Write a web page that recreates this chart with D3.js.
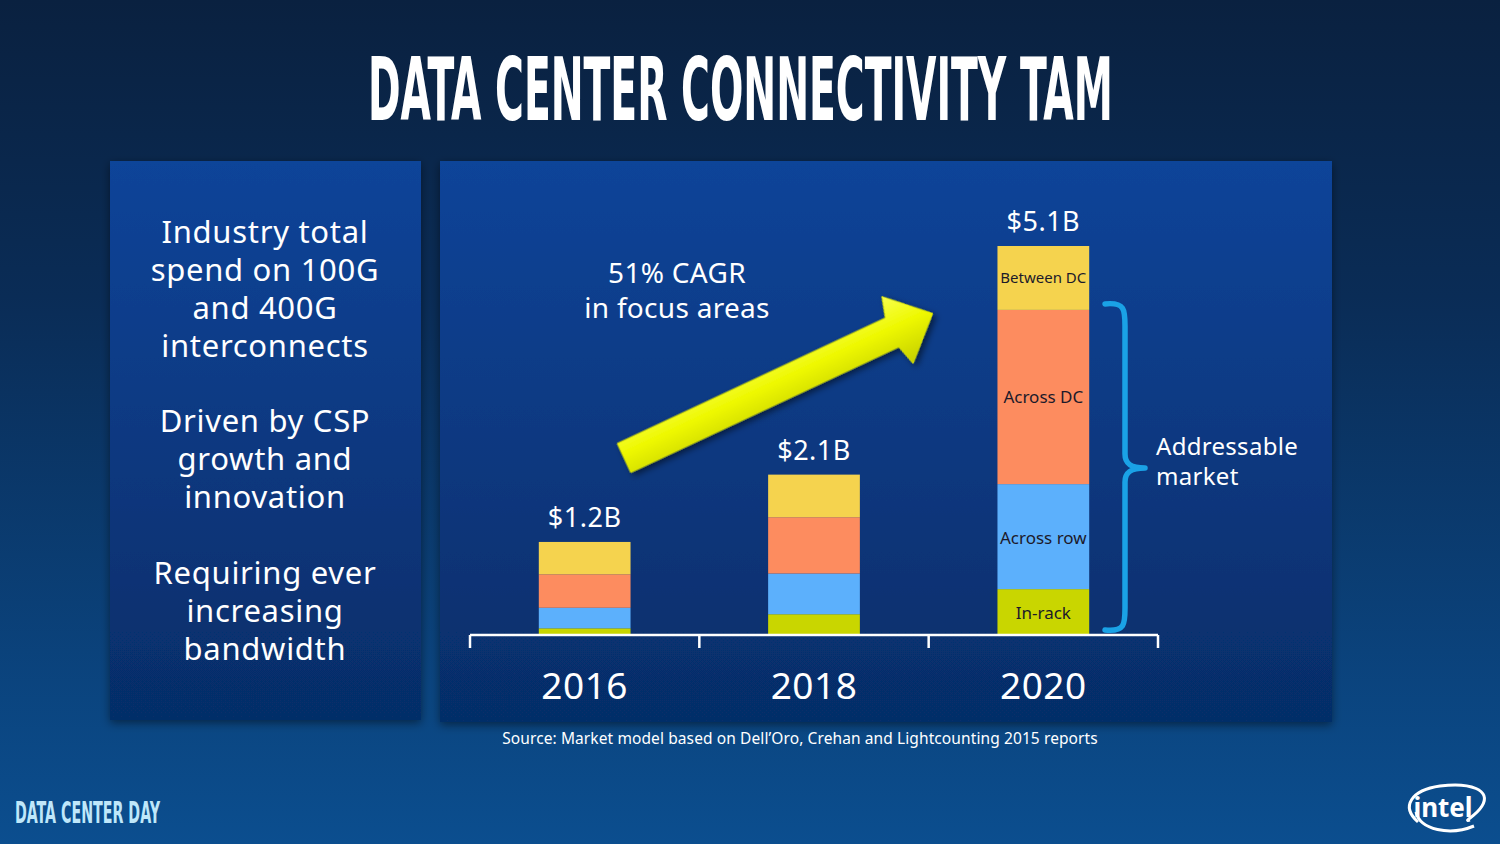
<!DOCTYPE html>
<html>
<head>
<meta charset="utf-8">
<script src="https://cdn.jsdelivr.net/npm/d3@7"></script>
<style>
  html, body { margin: 0; padding: 0; background: #0a2a50; }
  svg { display: block; }
</style>
</head>
<body>
<svg id="chart" width="1500" height="844"></svg>
<script>
// ---------------- DATA ----------------
const years = ["2016", "2018", "2020"];
const seriesKeys = ["In-rack", "Across row", "Across DC", "Between DC"];
const inRack    = [0.075, 0.26, 0.59];
const acrossRow = [0.27, 0.535, 1.38];
const acrossDC  = [0.44, 0.74, 2.29];
const betweenDC = [0.425, 0.56, 0.84];
const totalLabels = ["$1.2B", "$2.1B", "$5.1B"];
const seriesColors = ["#c9d600", "#5cb0fc", "#fd8c5f", "#f5d34e"];
const titleText = "DATA CENTER CONNECTIVITY TAM";
const leftBullets = [
  ["Industry total", "spend on 100G", "and 400G", "interconnects"],
  ["Driven by CSP", "growth and", "innovation"],
  ["Requiring ever", "increasing", "bandwidth"]
];
const cagrLines = ["51% CAGR", "in focus areas"];
const braceLines = ["Addressable", "market"];
const sourceText = "Source: Market model based on Dell\u2019Oro, Crehan and Lightcounting 2015 reports";

const table = years.map((y, i) => ({
  year: y,
  "In-rack": inRack[i],
  "Across row": acrossRow[i],
  "Across DC": acrossDC[i],
  "Between DC": betweenDC[i]
}));

// ---------------- SETUP ----------------
const svg = d3.select("#chart");
const defs = svg.append("defs");
const font = "'Noto Sans', 'Open Sans', sans-serif";
const condensed = "'Liberation Sans Narrow', 'DejaVu Sans Condensed', sans-serif";

const bgGrad = defs.append("linearGradient").attr("id", "bg")
  .attr("x1", 0).attr("y1", 0).attr("x2", 0).attr("y2", 1);
bgGrad.append("stop").attr("offset", "0").attr("stop-color", "#0a2140");
bgGrad.append("stop").attr("offset", "0.35").attr("stop-color", "#0a2c56");
bgGrad.append("stop").attr("offset", "1").attr("stop-color", "#0b4e8f");

const panelGrad = defs.append("linearGradient").attr("id", "panel")
  .attr("x1", 0).attr("y1", 0).attr("x2", 0).attr("y2", 1);
panelGrad.append("stop").attr("offset", "0").attr("stop-color", "#0c4499");
panelGrad.append("stop").attr("offset", "1").attr("stop-color", "#062d68");

const shadow = defs.append("filter").attr("id", "shadow")
  .attr("x", "-10%").attr("y", "-10%").attr("width", "120%").attr("height", "120%");
shadow.append("feDropShadow").attr("dx", 0).attr("dy", 3).attr("stdDeviation", 5)
  .attr("flood-color", "#000").attr("flood-opacity", 0.45);

const arrowGrad = defs.append("linearGradient").attr("id", "arrowGrad")
  .attr("x1", 0).attr("y1", 0).attr("x2", 0).attr("y2", 1);
arrowGrad.append("stop").attr("offset", "0").attr("stop-color", "#f8ff50");
arrowGrad.append("stop").attr("offset", "0.45").attr("stop-color", "#eef800");
arrowGrad.append("stop").attr("offset", "1").attr("stop-color", "#c5cf00");

const arrowShadow = defs.append("filter").attr("id", "arrowShadow")
  .attr("x", "-20%").attr("y", "-50%").attr("width", "140%").attr("height", "200%");
arrowShadow.append("feDropShadow").attr("dx", 2).attr("dy", 4).attr("stdDeviation", 3)
  .attr("flood-color", "#000").attr("flood-opacity", 0.5);

// background
svg.append("rect").attr("width", 1500).attr("height", 844).attr("fill", "url(#bg)");

// helper: fit condensed text to a width by horizontal scaling
function fitText(txt, x0, yBase, width, size, color) {
  const gT = svg.append("g");
  const t = gT.append("text")
    .attr("x", 0).attr("y", 0)
    .attr("font-family", condensed)
    .attr("font-weight", "bold").attr("font-size", size)
    .attr("fill", color).text(txt);
  const len = t.node().getComputedTextLength();
  gT.attr("transform", `translate(${x0},${yBase}) scale(${width / len},1)`);
}

// title
fitText(titleText, 368, 120, 745, 87, "#ffffff");

// panels
svg.append("rect").attr("x", 110).attr("y", 161).attr("width", 311).attr("height", 559)
  .attr("fill", "url(#panel)").attr("filter", "url(#shadow)");
svg.append("rect").attr("x", 440).attr("y", 161).attr("width", 892).attr("height", 561)
  .attr("fill", "url(#panel)").attr("filter", "url(#shadow)");

// left panel text
const leftStarts = [232, 421, 573];
leftBullets.forEach((lines, bi) => {
  lines.forEach((ln, li) => {
    svg.append("text")
      .attr("x", 265).attr("y", leftStarts[bi] + li * 38)
      .attr("dy", "0.35em")
      .attr("text-anchor", "middle")
      .attr("font-family", font).attr("font-size", 31)
      .attr("letter-spacing", 0.7)
      .attr("fill", "#ffffff")
      .text(ln);
  });
});

// ---------------- CHART ----------------
const x = d3.scaleBand().domain(years).range([470, 1158]).padding(0);
const y = d3.scaleLinear().domain([0, 5.1]).range([634, 246]);
const barW = x.bandwidth() * 0.4;

const stacked = d3.stack().keys(seriesKeys)(table);

const g = svg.append("g");
stacked.forEach((layer, li) => {
  g.selectAll(null).data(layer).enter().append("rect")
    .attr("x", d => x(d.data.year) + (x.bandwidth() - barW) / 2)
    .attr("y", d => y(d[1]))
    .attr("width", barW)
    .attr("height", d => y(d[0]) - y(d[1]))
    .attr("fill", seriesColors[li]);
});

// axis
const axisY = 635;
const axis = d3.axisBottom(x).tickSize(0).tickPadding(0);
const axG = svg.append("g").attr("transform", `translate(0,${axisY})`).call(axis);
axG.select(".domain").remove();
axG.selectAll("text")
  .attr("y", 51)
  .attr("dy", "0.35em")
  .attr("font-family", font).attr("font-size", 37)
  .attr("letter-spacing", 0.5)
  .attr("fill", "#ffffff");
svg.append("line")
  .attr("x1", x.range()[0]).attr("x2", x.range()[1])
  .attr("y1", axisY).attr("y2", axisY)
  .attr("stroke", "#ffffff").attr("stroke-width", 2.5);
const boundaries = years.map(d => x(d)).concat([x(years[years.length - 1]) + x.bandwidth()]);
svg.selectAll(null).data(boundaries).enter().append("line")
  .attr("x1", d => d).attr("x2", d => d)
  .attr("y1", axisY).attr("y2", axisY + 13)
  .attr("stroke", "#ffffff").attr("stroke-width", 2.5);

// total labels
const totals = table.map((d, i) => inRack[i] + acrossRow[i] + acrossDC[i] + betweenDC[i]);
svg.selectAll(null).data(years).enter().append("text")
  .attr("x", d => x(d) + x.bandwidth() / 2)
  .attr("y", (d, i) => y(totals[i]) - 24)
  .attr("dy", "0.35em")
  .attr("text-anchor", "middle")
  .attr("font-family", font).attr("font-size", 27)
  .attr("letter-spacing", 0.5)
  .attr("fill", "#ffffff")
  .text((d, i) => totalLabels[i]);

// segment labels on the last bar
const lastIdx = years.length - 1;
const labelSizes = [17, 17, 17, 15];
stacked.forEach((layer, li) => {
  const d = layer[lastIdx];
  let yy = (y(d[0]) + y(d[1])) / 2;
  if (li === 3) yy = y(d[1]) + 32;
  if (li === 0 || li === 1) yy = (y(d[0]) + y(d[1])) / 2 + 1;
  svg.append("text")
    .attr("x", x(years[lastIdx]) + x.bandwidth() / 2)
    .attr("y", yy).attr("dy", "0.35em")
    .attr("text-anchor", "middle")
    .attr("font-family", font).attr("font-size", labelSizes[li])
    .attr("fill", "#1c1a2a")
    .text(seriesKeys[li]);
});

// brace
const braceTop = y(stacked[3][lastIdx][0]) - 6;
const braceBot = y(0) - 4;
const braceMid = (braceTop + braceBot) / 2 + 1;
const bx = 1105, bc = 1125, bp = 1145;
const bracePath = `M${bx},${braceTop}
  C${bc},${braceTop - 2} ${bc},${braceTop + 6} ${bc},${braceTop + 22}
  L${bc},${braceMid - 14}
  C${bc},${braceMid - 4} ${bc + 6},${braceMid} ${bp},${braceMid}
  C${bc + 6},${braceMid} ${bc},${braceMid + 4} ${bc},${braceMid + 14}
  L${bc},${braceBot - 22}
  C${bc},${braceBot - 6} ${bc},${braceBot + 2} ${bx},${braceBot}`;
svg.append("path").attr("d", bracePath)
  .attr("fill", "none").attr("stroke", "#1aa2e6").attr("stroke-width", 5.5)
  .attr("stroke-linecap", "round").attr("stroke-linejoin", "round");
braceLines.forEach((t, i) => {
  svg.append("text")
    .attr("x", 1156).attr("y", 447 + i * 30).attr("dy", "0.35em")
    .attr("font-family", font).attr("font-size", 24)
    .attr("letter-spacing", 0.3)
    .attr("fill", "#ffffff").text(t);
});

// arrow
const arrowPts = [[0, -16], [296, -16], [302, -37], [341, 0], [302, 37], [296, 16], [0, 16]];
svg.append("polygon")
  .attr("points", arrowPts.map(p => p.join(",")).join(" "))
  .attr("transform", "translate(624,458) rotate(-25.1)")
  .attr("fill", "url(#arrowGrad)")
  .attr("stroke", "#d7e000").attr("stroke-width", 1)
  .attr("filter", "url(#arrowShadow)");

cagrLines.forEach((t, i) => {
  svg.append("text")
    .attr("x", 677).attr("y", 273 + i * 35).attr("dy", "0.35em")
    .attr("text-anchor", "middle")
    .attr("font-family", font).attr("font-size", 28)
    .attr("letter-spacing", 0.3)
    .attr("fill", "#ffffff").text(t);
});

// source
svg.append("text")
  .attr("x", 800).attr("y", 739).attr("dy", "0.35em")
  .attr("text-anchor", "middle")
  .attr("font-family", font).attr("font-size", 15.5)
  .attr("letter-spacing", 0.1)
  .attr("fill", "#ffffff").text(sourceText);

// footer
fitText("DATA CENTER DAY", 15, 823, 145, 31, "#bfe7fa");

// intel logo
svg.append("path")
  .attr("d", "M1418,822 C1400,806 1412,790 1440,786 C1470,782 1492,790 1482,806 C1476,816 1462,822 1470,820")
  .attr("fill", "none").attr("stroke", "#ffffff").attr("stroke-width", 3);
svg.append("path")
  .attr("d", "M1416,812 C1420,830 1450,836 1474,826")
  .attr("fill", "none").attr("stroke", "#ffffff").attr("stroke-width", 3);
svg.append("text")
  .attr("x", 1443).attr("y", 817)
  .attr("text-anchor", "middle")
  .attr("font-family", font).attr("font-weight", "bold").attr("font-size", 26)
  .attr("fill", "#ffffff").text("intel");
</script>
</body>
</html>
